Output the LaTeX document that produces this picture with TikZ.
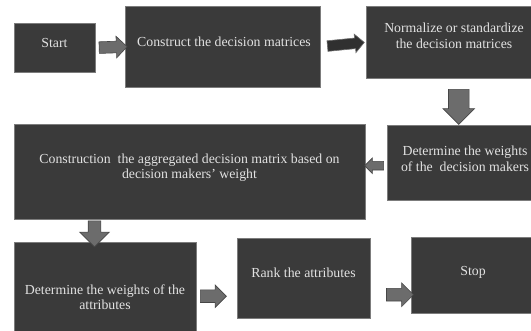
\documentclass[tikz,border=0pt]{standalone}
\usepackage{fontspec}
\setmainfont{Liberation Serif}
\usepackage{tikz}
\usetikzlibrary{calc}
\usetikzlibrary{shapes.arrows}
\definecolor{boxfill}{HTML}{3A3A3A}
\definecolor{boxline}{HTML}{7C7C7C}
\definecolor{arrfill}{HTML}{6C6C6C}
\definecolor{arrline}{HTML}{464646}
\definecolor{darkfill}{HTML}{303030}
\definecolor{darkline}{HTML}{6E6E6E}
\definecolor{txtgrey}{HTML}{E2E2E2}

\tikzset{
  stepbox/.style={draw=boxline, fill=boxfill, line width=0.5pt, inner sep=0pt, anchor=north west},
  steptext/.style={text=txtgrey, align=center, inner sep=0pt, font=\fontsize{13.8}{15.5}\selectfont},
  blkarr/.style={single arrow, draw=arrline, fill=arrfill, line width=0.6pt, inner xsep=0pt,
    single arrow head indent=0pt, midway, sloped, allow upside down},
  darkarr/.style={blkarr, draw=darkline, fill=darkfill}
}

\begin{document}
\begin{tikzpicture}[x=1pt, y=-1pt]
\useasboundingbox (0,0) rectangle (531,331);

% boxes, top row
\node [stepbox, minimum width=81pt, minimum height=49pt] (start) at (14,23) {};
\node [stepbox, minimum width=195pt, minimum height=81pt] (construct) at (125,6) {};
\node [stepbox, minimum width=167pt, minimum height=72pt] (normalize) at (366,6) {};

% boxes, middle row
\node [stepbox, minimum width=146pt, minimum height=75pt] (dmweight) at (387,125) {};
\node [stepbox, minimum width=351pt, minimum height=95pt] (aggregate) at (14,124) {};

% boxes, bottom row
\node [stepbox, minimum width=182pt, minimum height=91pt] (attrweight) at (14,242) {};
\node [stepbox, minimum width=133pt, minimum height=80pt] (rank) at (237,238) {};
\node [stepbox, minimum width=122pt, minimum height=76pt] (stop) at (411,237) {};

% texts
\node [steptext] (start-txt) at (54.5,43) {Start};
\node [steptext] (construct-txt) at (224,42) {Construct the decision matrices};
\node [steptext] (normalize-txt) at (454,36) {Normalize or standardize\\the decision matrices};
\node [steptext] (dmweight-txt) at (465,159) {Determine the weights\\of the\ \ decision makers};
\node [steptext] (aggregate-txt) at (189.5,167.5) {Construction\ \ the aggregated decision matrix based on\\decision makers' weight};
\node [steptext] (attrweight-txt) at (105,297) {Determine the weights of the\\attributes};
\node [steptext] (rank-txt) at (303.5,273) {Rank the attributes};
\node [steptext] (stop-txt) at (473,272) {Stop};

% block arrows (inner ysep = half the shaft)
\path (start.east) -- (construct.west)
  node [blkarr, inner ysep=5.5pt, minimum height=28pt, minimum width=21pt, single arrow head extend=5pt] (a1) {};
\path (construct.east) -- (normalize.west)
  node [darkarr, inner ysep=5pt, minimum height=37pt, minimum width=18pt, single arrow head extend=4pt] (a2) {};
\path ([xshift=9pt]normalize.south) -- ([xshift=-1.5pt]dmweight.north)
  node [blkarr, inner ysep=10pt, minimum height=35pt, minimum width=31pt, single arrow head extend=5.5pt] (a3) {};
\path ($(dmweight.west)+(0,3)$) -- ($(aggregate.east |- dmweight.west)+(0,3)$)
  node [blkarr, inner ysep=4pt, minimum height=19pt, minimum width=15pt, single arrow head extend=3.5pt] (a4) {};
\path ($(aggregate.south west)+(80.5,0)$) -- ($(attrweight.north west)+(80.5,0)$)
  node [blkarr, inner ysep=6pt, minimum height=26pt, minimum width=29pt, single arrow head extend=8.5pt] (a5) {};
\path ($(attrweight.east)+(0,8.5)$) -- ($(rank.west |- attrweight.east)+(0,8.5)$)
  node [blkarr, pos=.34, inner ysep=6pt, minimum height=26pt, minimum width=22pt, single arrow head extend=5pt] (a6) {};
\path ($(rank.east)+(0,16.5)$) -- ($(stop.west |- rank.east)+(0,16.5)$)
  node [blkarr, pos=.65, inner ysep=6pt, minimum height=27pt, minimum width=23pt, single arrow head extend=5.5pt] (a7) {};

\end{tikzpicture}
\end{document}
